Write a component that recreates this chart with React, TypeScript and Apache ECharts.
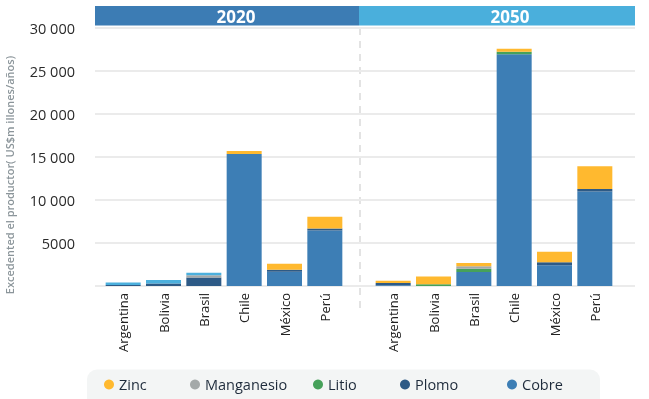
import React, { useEffect, useRef } from "react";
import * as echarts from "echarts";

const categories = ["Argentina", "Bolivia", "Brasil", "Chile", "México", "Perú"];
const periods = ["2020", "2050"];
const yTickLabels = ["", "5000", "10 000", "15 000", "20 000", "25 000", "30 000"];
const yTitle = "Excedented el productor( US$m illones/años)";

// values (US$ millones/año), bottom to top of each stack
const cobre2020 = [0, 0, 0, 15350, 1650, 6450];
const plomo2020 = [120, 300, 1000, 0, 250, 250];
const litio2020 = [0, 0, 0, 0, 0, 0];
const manganesio2020 = [0, 0, 250, 0, 0, 0];
const otros2020 = [280, 400, 280, 0, 0, 0];
const zinc2020 = [0, 0, 0, 350, 700, 1350];

const cobre2050 = [100, 0, 1640, 26950, 2420, 10980];
const plomo2050 = [250, 0, 0, 0, 350, 310];
const litio2050 = [0, 200, 380, 300, 0, 0];
const manganesio2050 = [0, 0, 270, 0, 0, 0];
const otros2050 = [0, 0, 0, 0, 0, 0];
const zinc2050 = [250, 900, 390, 330, 1210, 2630];

const legendNames = ["Zinc", "Manganesio", "Litio", "Plomo", "Cobre"];
const legendLefts = [104, 190, 313, 400, 507];

const seriesDefs = [
  { name: "Cobre", color: "#3d7eb5", d: [cobre2020, cobre2050] },
  { name: "Plomo", color: "#2d5a86", d: [plomo2020, plomo2050] },
  { name: "Litio", color: "#46a15a", d: [litio2020, litio2050] },
  { name: "Manganesio", color: "#a4a9a9", d: [manganesio2020, manganesio2050] },
  { name: "Otros", color: "#4cb0dd", d: [otros2020, otros2050] },
  { name: "Zinc", color: "#ffb92f", d: [zinc2020, zinc2050] },
];

const FONT = "'Open Sans', 'Noto Sans', sans-serif";

export default function App() {
  const ref = useRef<HTMLDivElement>(null);
  useEffect(() => {
    if (!ref.current) return;
    const chart = echarts.init(ref.current, null, { renderer: "svg" });
    const TOP = 28;
    const H = 258;
    const series: any[] = [];
    seriesDefs.forEach((s) => {
      [0, 1].forEach((p) => {
        series.push({
          type: "bar",
          name: s.name,
          xAxisIndex: p + 1,
          yAxisIndex: p + 1,
          stack: "s" + periods[p],
          barWidth: 35,
          data: s.d[p],
          itemStyle: { color: s.color },
        });
      });
    });
    const option: any = {
      animation: false,
      textStyle: { fontFamily: FONT },
      grid: [
        { left: 95, right: 14, top: TOP, height: H },
        { left: 103, width: 242, top: TOP, height: H },
        { left: 373, width: 242, top: TOP, height: H },
      ],
      xAxis: [
        { type: "category", gridIndex: 0, data: [], show: false },
        ...[1, 2].map((g) => ({
          type: "category",
          gridIndex: g,
          data: categories,
          axisLine: { show: false },
          axisTick: { show: false },
          axisLabel: {
            rotate: 90,
            interval: 0,
            margin: 7,
            fontSize: 13,
            color: "#222",
            fontFamily: FONT,
          },
        })),
      ],
      yAxis: [
        {
          type: "value",
          gridIndex: 0,
          min: 0,
          max: 30000,
          interval: 5000,
          axisLine: { show: false },
          axisTick: { show: false },
          axisLabel: {
            margin: 20,
            fontSize: 14.5,
            color: "#2a2a2a",
            fontFamily: FONT,
            formatter: (v: number) => yTickLabels[Math.round(v / 5000)],
          },
          splitLine: { lineStyle: { color: "#ebebeb", width: 2 } },
        },
        ...[1, 2].map((g) => ({
          type: "value",
          gridIndex: g,
          min: 0,
          max: 30000,
          interval: 5000,
          show: false,
          splitLine: { show: false },
        })),
      ],
      legend: legendNames.map((n, i) => ({
        data: [n],
        left: legendLefts[i],
        top: 377,
        padding: 0,
        icon: "circle",
        itemWidth: 10,
        itemHeight: 10,
        itemGap: 5,
        textStyle: { fontSize: 14.5, color: "#1e2b3b", fontFamily: FONT, padding: [0, 0, 2, 0] },
      })),
      graphic: [
        {
          type: "rect",
          z: -10,
          shape: { x: 87, y: 369.5, width: 513, height: 40, r: 10 },
          style: { fill: "#f3f5f5" },
        },
        {
          type: "rect",
          shape: { x: 95, y: 6, width: 264, height: 19.5 },
          style: { fill: "#3c7cb4" },
        },
        {
          type: "rect",
          shape: { x: 359, y: 6, width: 276, height: 19.5 },
          style: { fill: "#4aafdc" },
        },
        {
          type: "text",
          x: 236,
          y: 16,
          style: {
            text: periods[0],
            fill: "#fff",
            font: `bold 17px ${FONT}`,
            align: "center",
            verticalAlign: "middle",
          },
        },
        {
          type: "text",
          x: 510,
          y: 16,
          style: {
            text: periods[1],
            fill: "#fff",
            font: `bold 17px ${FONT}`,
            align: "center",
            verticalAlign: "middle",
          },
        },
        {
          type: "line",
          shape: { x1: 360, y1: 28, x2: 360, y2: 313 },
          style: { stroke: "#e3e3e3", lineWidth: 2, lineDash: [7, 6] },
        },
        {
          type: "text",
          x: 9,
          y: 175,
          rotation: Math.PI / 2,
          style: {
            text: yTitle,
            fill: "#8b959a",
            font: `600 11px ${FONT}`,
            align: "center",
            verticalAlign: "middle",
          },
        },
      ],
      series,
    };
    chart.setOption(option);
    return () => chart.dispose();
  }, []);
  return (
    <div
      ref={ref}
      style={{ position: "fixed", left: 0, top: 0, width: 649, height: 399 }}
    />
  );
}
